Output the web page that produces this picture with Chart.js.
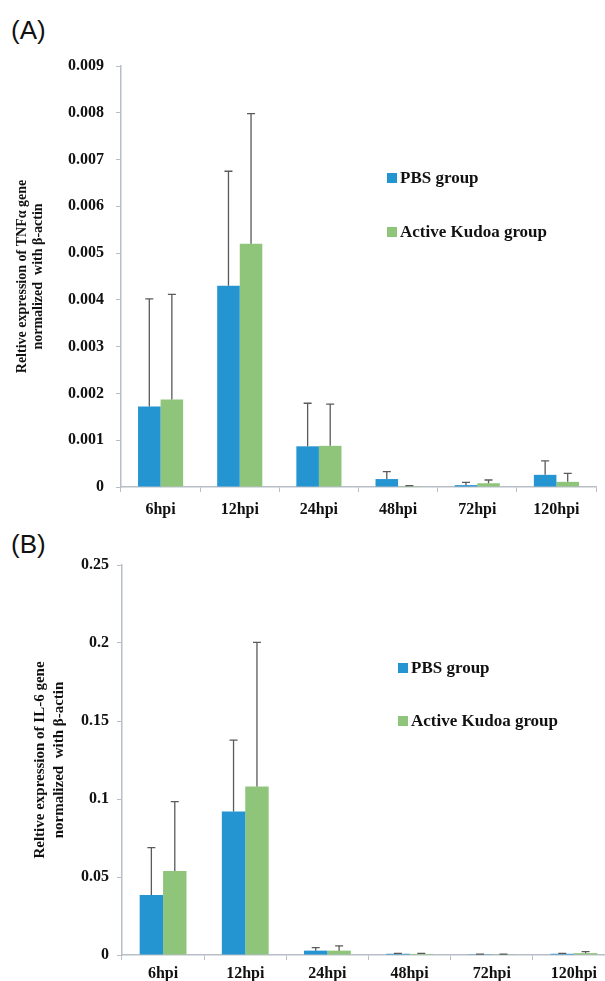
<!DOCTYPE html>
<html>
<head>
<meta charset="utf-8">
<script src="https://cdn.jsdelivr.net/npm/chart.js@4"></script>
<style>
  body { margin: 0; background: #fff; width: 605px; height: 981px; position: relative; overflow: hidden; }
  .panel { position: absolute; left: 11px; font: 26px "Liberation Sans", Arial, sans-serif; color: #111; line-height: 30px; }
  .wrap { position: absolute; left: 0; overflow: hidden; }
  .legend { position: absolute; font: bold 17px "Liberation Serif", "Times New Roman", serif; color: #111; }
  .legend div { position: absolute; white-space: nowrap; line-height: 18px; }
  .legend span { display: inline-block; width: 10px; height: 10px; margin-right: 3px; vertical-align: 0px; }
</style>
</head>
<body>
<div class="panel" style="top:15px">(A)</div>
<div class="panel" style="top:529px">(B)</div>

<div class="wrap" style="top:0; width:605px; height:520px"><canvas id="chartA" width="605" height="520"></canvas></div>
<div class="wrap" style="top:520px; width:605px; height:461px"><canvas id="chartB" width="620" height="461"></canvas></div>

<div class="legend" style="left:387px; top:0">
  <div style="top:169px"><span style="background:#2595d2"></span>PBS group</div>
  <div style="top:223px"><span style="background:#8fc57a"></span>Active Kudoa group</div>
</div>
<div class="legend" style="left:398px; top:0">
  <div style="top:659px"><span style="background:#2595d2"></span>PBS group</div>
  <div style="top:712px"><span style="background:#8fc57a"></span>Active Kudoa group</div>
</div>

<script>
const categories = ["6hpi", "12hpi", "24hpi", "48hpi", "72hpi", "120hpi"];

// TNFα (panel A)
const tnfPbs = [0.00172, 0.0043, 0.00087, 0.00017, 0.00004, 0.00026];
const tnfPbsErr = [0.0023, 0.00245, 0.00092, 0.00016, 0.00006, 0.0003];
const tnfKudoa = [0.00187, 0.0052, 0.00088, 0.00002, 0.00008, 0.00011];
const tnfKudoaErr = [0.00225, 0.00278, 0.00089, 0.00001, 0.00007, 0.00018];

// IL-6 (panel B)
const il6Pbs = [0.0385, 0.092, 0.0028, 0.0008, 0.0005, 0.0008];
const il6PbsErr = [0.0303, 0.0458, 0.0019, 0.0003, 0.0001, 0.0003];
const il6Kudoa = [0.0538, 0.108, 0.0028, 0.0007, 0.0005, 0.0012];
const il6KudoaErr = [0.0445, 0.0924, 0.003, 0.0003, 0.0001, 0.001];

const blue = "#2595d2";
const green = "#8fc57a";
const axisGray = "#b8bec6";
const serif = "'Liberation Serif', 'Times New Roman', serif";

// upward-only error bars with a cap
const errorBars = {
  id: "errorBars",
  afterDatasetsDraw(chart) {
    const ctx = chart.ctx;
    const yScale = chart.scales.y;
    ctx.save();
    ctx.strokeStyle = "#5a5a5a";
    ctx.lineWidth = 1.3;
    chart.data.datasets.forEach((ds, i) => {
      const meta = chart.getDatasetMeta(i);
      meta.data.forEach((bar, j) => {
        const top = yScale.getPixelForValue(ds.data[j] + ds.errors[j]);
        ctx.beginPath();
        ctx.moveTo(bar.x, bar.y);
        ctx.lineTo(bar.x, top);
        ctx.moveTo(bar.x - 4, top);
        ctx.lineTo(bar.x + 4, top);
        ctx.stroke();
      });
    });
    ctx.restore();
  },
};

function makeChart(id, pbs, pbsErr, kudoa, kudoaErr, opts) {
  return new Chart(document.getElementById(id), {
    type: "bar",
    data: {
      labels: categories,
      datasets: [
        { label: "PBS group", data: pbs, errors: pbsErr, backgroundColor: blue },
        { label: "Active Kudoa group", data: kudoa, errors: kudoaErr, backgroundColor: green },
      ],
    },
    options: {
      responsive: false,
      animation: false,
      devicePixelRatio: 1,
      categoryPercentage: 0.57,
      barPercentage: 1.0,
      layout: { padding: opts.padding },
      plugins: { legend: { display: false }, tooltip: { enabled: false } },
      scales: {
        x: {
          grid: { display: true, drawOnChartArea: false, color: axisGray, tickLength: 5 },
          border: { color: axisGray, width: 1.5 },
          ticks: { color: "#111", font: { family: serif, size: 16, weight: "bold" }, padding: opts.xPad, maxRotation: 0 },
          afterFit: (scale) => { scale.height = opts.xHeight; },
        },
        y: {
          min: 0,
          max: opts.max,
          grid: { display: true, drawOnChartArea: false, color: axisGray, tickLength: 5 },
          border: { color: axisGray, width: 1.5 },
          ticks: {
            stepSize: opts.step,
            color: "#111",
            padding: opts.yPad,
            font: { family: serif, size: 16, weight: "bold" },
            callback: (v) => (v === 0 ? "0" : String(Number(v.toFixed(4)))),
          },
          title: {
            display: true,
            text: opts.title,
            color: "#111",
            font: { family: serif, size: opts.titleSize, weight: "bold", lineHeight: opts.titleLine },
            padding: { top: opts.titlePad, bottom: 0 },
          },
          afterFit: (scale) => { scale.width = opts.yWidth; },
        },
      },
    },
    plugins: [errorBars],
  });
}

makeChart("chartA", tnfPbs, tnfPbsErr, tnfKudoa, tnfKudoaErr, {
  max: 0.009,
  step: 0.001,
  title: ["Reltive expression of TNFα gene", "normalized  with β-actin"],
  titleSize: 14,
  titleLine: 1.15,
  titlePad: 14,
  yWidth: 121,
  yPad: 12,
  xPad: 8,
  xHeight: 33,
  padding: { top: 66, right: 9, bottom: 0, left: 0 },
});

makeChart("chartB", il6Pbs, il6PbsErr, il6Kudoa, il6KudoaErr, {
  max: 0.25,
  step: 0.05,
  title: ["Reltive expression of IL-6 gene", "normalized  with β-actin"],
  titleSize: 15,
  titleLine: 1.3,
  titlePad: 30,
  yWidth: 122,
  yPad: 8,
  xPad: 4,
  xHeight: 26,
  padding: { top: 45, right: 5, bottom: 0, left: 0 },
});
</script>
</body>
</html>
